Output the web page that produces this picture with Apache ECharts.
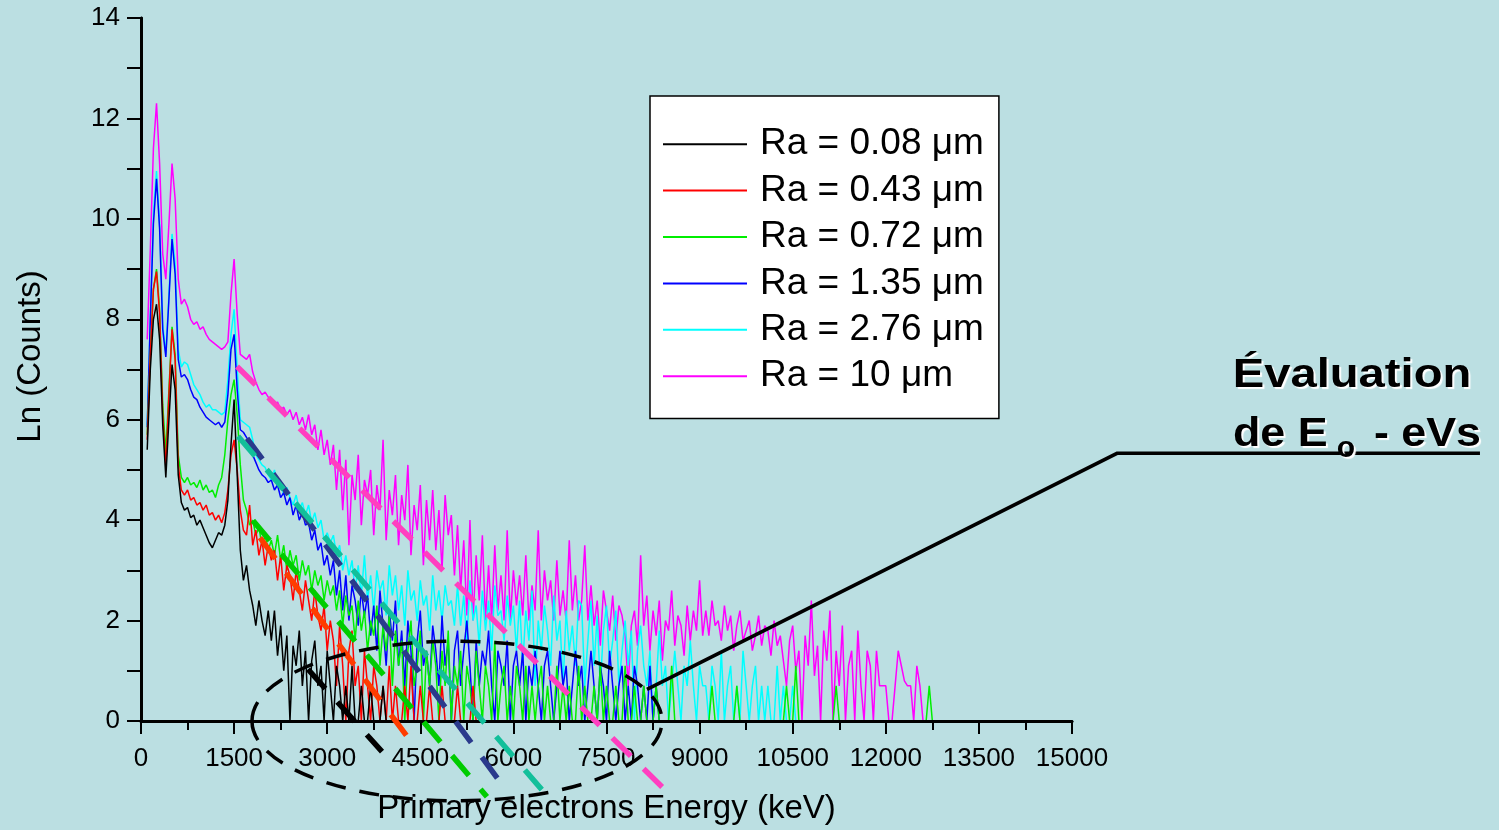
<!DOCTYPE html>
<html>
<head>
<meta charset="utf-8">
<title>Ln (Counts) - Primary electrons Energy</title>
<script src="https://cdn.jsdelivr.net/npm/echarts@6/dist/echarts.min.js"></script>
<style>
  html, body { margin: 0; padding: 0; background: #bbdfe2; }
  #chart { width: 1499px; height: 830px; }
</style>
</head>
<body>
<div id="chart"></div>
<script>
// spectra channels (keV): first channel and channel width
const channelStart = 100
const channelWidth = 50

// ln(counts) per channel, one row = 1000 keV
const ra008 = [
  5.4, 7.0, 8.0, 8.3, 7.6, 5.9, 4.85, 6.0, 7.1, 6.6, 4.9, 4.35, 4.2, 4.25, 4.05, 4.1, 3.9, 4.0, 3.85, 3.7,
  3.55, 3.45, 3.6, 3.75, 3.7, 3.9, 4.4, 5.5, 6.4, 4.9, 3.4, 2.8, 3.1, 2.6, 2.3, 1.9, 2.4, 2.0, 1.7, 2.2,
  1.6, 2.2, 1.3, 1.9, 1.0, 1.7, 0, 1.5, 1.1, 1.8, 0.7, 1.4, 0, 1.2, 1.6, 0.7, 1.1, 0, 1.4, 0.7,
  0, 1.1, 0.7, 0, 0.7, 0, 1.1, 0, 0, 0.7, 0, 0, 0.7, 0, 0, 0, 0.7, 0, 0, 0
]
const ra043 = [
  5.6, 7.3, 8.6, 8.95, 8.1, 6.1, 5.05, 6.5, 7.8, 7.2, 5.1, 4.6, 4.5, 4.6, 4.4, 4.45, 4.3, 4.35, 4.2, 4.3,
  4.1, 4.15, 4.0, 4.1, 3.95, 4.15, 4.6, 5.3, 5.6, 5.0, 4.2, 3.8, 3.7, 4.3, 3.5, 3.8, 3.3, 3.6, 3.1, 3.5,
  3.2, 3.4, 2.8, 3.3, 2.6, 3.1, 2.9, 2.4, 3.0, 2.6, 2.2, 2.8, 2.4, 2.0, 2.6, 2.1, 1.8, 2.3, 1.4, 2.0,
  1.6, 0.7, 1.9, 1.1, 0, 1.4, 1.8, 0.7, 1.1, 0, 1.4, 0.7, 0, 1.1, 0.7, 0, 0.7, 0, 1.1, 0,
  0.7, 0, 0, 0.7, 0, 1.1, 0, 0, 0.7, 0, 0, 0.7, 0, 0, 0, 0.7, 0, 0, 0, 0,
  0.7, 0, 0, 0, 0, 0.7, 0, 0, 0
]
const ra072 = [
  5.7, 7.3, 8.6, 9.0, 8.2, 6.3, 5.35, 6.6, 7.85, 7.3, 5.3, 4.85, 4.75, 4.85, 4.7, 4.75, 4.65, 4.8, 4.6, 4.7,
  4.55, 4.6, 4.45, 4.7, 4.85, 5.3, 6.0, 6.5, 6.8, 6.1, 5.1, 4.4, 4.2, 3.9, 4.0, 3.7, 3.85, 3.5, 3.7, 3.4,
  3.6, 3.3, 3.7, 3.2, 3.5, 3.0, 3.4, 3.1, 3.3, 2.8, 3.2, 2.9, 3.1, 2.6, 3.0, 2.7, 2.9, 2.4, 2.8, 2.5,
  2.7, 2.2, 2.6, 1.9, 2.5, 2.1, 2.3, 1.6, 2.4, 1.8, 2.2, 1.4, 2.0, 1.7, 2.3, 1.1, 1.9, 1.4, 2.1, 0.7,
  1.8, 1.1, 1.6, 0, 1.4, 2.0, 0.7, 1.1, 1.8, 0, 1.4, 0.7, 1.6, 1.1, 0, 1.4, 0.7, 1.8, 0, 1.1,
  0.7, 1.4, 0, 1.1, 0.7, 0, 1.4, 0.7, 0, 1.1, 0.7, 0, 1.6, 0, 0.7, 1.1, 0, 0.7, 0, 1.1,
  0.7, 0, 1.1, 0, 0.7, 0, 0.7, 1.1, 0, 0.7, 0, 0, 1.1, 0, 0.7, 0, 0.7, 0, 0, 1.1,
  0, 0.7, 0, 0, 0.7, 0, 1.1, 0, 0.7, 0, 0, 0.7, 0, 0, 1.1, 0, 0, 0.7, 0, 0,
  0.7, 0, 0, 0, 0.7, 0, 0, 0, 0, 1.1, 0, 0, 0, 0, 0, 0, 0, 0, 0, 0,
  0, 0, 0.7, 0, 0, 0, 0, 0, 0, 0, 0.7, 0, 0, 0, 0, 0, 0, 0, 0, 0,
  0, 0, 0, 0, 0, 0, 0.7, 0, 0, 1.1, 0, 0, 0, 0, 0, 0, 0, 0, 0, 0,
  0, 0, 0.7, 0, 0, 0, 0, 0, 0, 0, 0, 0, 0, 0, 0, 0, 0, 0, 0, 0,
  0, 0, 0, 0, 0, 0, 0, 0, 0, 0, 0, 0, 0.7, 0
]
const ra135 = [
  5.85, 8.0, 9.9, 10.8, 9.8, 7.8, 7.25, 8.4, 9.6, 8.9, 7.2, 6.85, 6.9, 6.8, 6.6, 6.45, 6.4, 6.25, 6.15, 6.05,
  6.0, 5.95, 5.9, 5.95, 5.85, 5.95, 6.5, 7.4, 7.7, 6.6, 5.8, 5.75, 5.65, 5.55, 5.3, 5.15, 5.0, 4.9, 4.85, 4.75,
  4.8, 4.6, 4.7, 4.45, 4.55, 4.3, 4.45, 4.1, 4.3, 4.0, 4.15, 3.9, 3.95, 3.6, 3.8, 3.4, 3.55, 3.1, 3.3, 2.9,
  3.2, 2.5, 3.0, 2.2, 2.9, 2.0, 2.7, 2.4, 1.9, 2.6, 2.1, 2.5, 1.7, 2.3, 1.4, 2.6, 1.9, 1.1, 2.2, 1.6,
  2.4, 1.1, 1.8, 0.7, 2.0, 1.4, 0, 1.6, 2.2, 1.1, 1.4, 0.7, 1.9, 1.4, 0.7, 2.1, 1.1, 1.6, 0, 1.4,
  1.8, 0.7, 1.4, 2.0, 1.1, 0, 1.6, 0.7, 1.4, 1.1, 1.8, 0.7, 0, 1.4, 1.1, 0.7, 1.6, 0, 1.1, 1.4,
  0.7, 1.4, 0, 1.1, 0.7, 1.4, 0.7, 0, 1.1, 1.4, 0.7, 0, 0.7, 1.4, 0.7, 1.1, 0, 0.7, 1.4, 0.7,
  1.1, 0, 0.7, 1.4, 0.7, 0, 1.1, 0.7, 0, 1.4, 0.7, 0, 0.7, 1.1, 0, 0.7, 0, 1.1, 0.7, 0,
  0.7, 0, 1.1, 0, 0.7, 0, 0
]
const ra276 = [
  5.9, 8.0, 10.1, 10.95, 9.9, 7.9, 7.3, 8.5, 9.7, 9.1, 7.4, 7.05, 7.15, 7.1, 6.9, 6.7, 6.6, 6.5, 6.35, 6.25,
  6.3, 6.2, 6.2, 6.15, 6.1, 6.15, 6.8, 7.7, 8.2, 7.0, 6.0, 5.95, 5.9, 5.85, 5.6, 5.3, 5.2, 5.1, 5.05, 4.9,
  4.8, 5.0, 4.7, 4.75, 4.5, 4.65, 4.45, 4.3, 4.5, 4.2, 4.35, 4.1, 4.3, 3.95, 4.15, 3.85, 4.0, 3.6, 3.75, 3.55,
  3.7, 3.3, 3.5, 3.0, 3.3, 2.9, 3.2, 2.6, 3.1, 2.5, 3.3, 2.4, 2.9, 2.2, 3.0, 2.6, 2.8, 2.1, 3.1, 2.5,
  2.9, 2.2, 2.7, 1.9, 3.0, 2.4, 2.6, 2.0, 2.8, 2.3, 2.5, 1.8, 2.9, 2.2, 2.6, 2.0, 2.7, 2.3, 2.4, 1.9,
  2.7, 1.9, 2.5, 1.6, 2.8, 2.0, 2.3, 1.5, 2.6, 1.8, 2.4, 1.4, 2.7, 2.1, 2.2, 1.6, 2.5, 1.9, 2.3, 1.4,
  2.4, 1.1, 2.2, 1.6, 2.6, 0.7, 2.0, 1.4, 2.3, 1.8, 1.1, 2.5, 1.6, 2.0, 0.7, 2.2, 1.4, 1.9, 1.1, 2.4,
  2.3, 0.7, 1.6, 2.4, 1.1, 2.1, 0.7, 1.8, 2.3, 1.1, 1.6, 2.2, 0.7, 1.4, 2.0, 1.1, 1.8, 0, 1.4, 1.9,
  1.1, 0.7, 1.4, 0, 0.7, 1.8, 0.7, 1.1, 0, 0.7, 1.4, 0.7, 0, 1.1, 0.7, 1.6, 0.7, 0, 1.1, 0.7,
  0.7, 0, 1.1, 0.7, 0, 1.4, 0, 0.7, 1.1, 0, 0.7, 0, 1.4, 0.7, 0, 0.7, 1.1, 0, 0.7, 0,
  0.7, 0, 0, 1.1, 0, 0.7, 0, 0, 0.7, 0, 0, 0
]
const ra10 = [
  7.6, 9.4, 11.4, 12.3, 11.1, 9.3, 8.8, 9.9, 11.1, 10.4, 8.8, 8.3, 8.4, 8.25, 8.0, 7.9, 7.95, 7.8, 7.85, 7.7,
  7.6, 7.55, 7.5, 7.45, 7.4, 7.45, 7.55, 8.5, 9.2, 8.1, 7.3, 7.25, 7.2, 7.3, 6.95, 6.75, 6.6, 6.5, 6.55, 6.45,
  6.4, 6.3, 6.35, 6.2, 6.25, 6.1, 6.2, 6.0, 6.15, 5.9, 6.05, 5.8, 6.1, 5.7, 5.9, 5.4, 5.8, 5.3, 5.6, 5.1,
  5.5, 4.6, 5.4, 4.2, 5.2, 3.5, 4.9, 4.4, 5.3, 3.9, 4.8, 4.5, 5.0, 3.7, 4.7, 4.2, 5.6, 3.6, 4.6, 4.1,
  4.9, 3.5, 4.5, 4.0, 5.1, 3.3, 4.3, 3.8, 4.7, 3.1, 4.4, 3.6, 4.6, 3.4, 4.2, 3.0, 4.5, 3.7, 4.1, 2.9,
  3.9, 2.6, 3.6, 2.1, 4.0, 2.0, 3.3, 2.4, 3.7, 2.0, 3.1, 2.0, 3.5, 2.2, 2.9, 2.0, 3.8, 2.0, 3.0, 2.3,
  2.9, 2.1, 3.3, 2.0, 2.7, 2.2, 3.8, 2.0, 3.0, 2.4, 2.8, 2.0, 3.2, 2.1, 2.6, 2.0, 3.6, 2.2, 2.9, 2.0,
  2.4, 3.5, 2.0, 2.7, 1.9, 2.4, 1.5, 2.6, 2.2, 1.8, 2.5, 1.6, 2.3, 2.1, 1.7, 0.7, 1.9, 2.2, 1.5, 3.3,
  1.9, 2.5, 1.4, 2.2, 1.7, 2.4, 1.2, 2.0, 1.8, 2.6, 1.5, 2.1, 1.9, 1.3, 2.3, 1.6, 2.2, 1.8, 2.8, 1.7,
  2.2, 1.7, 2.4, 1.9, 2.0, 1.6, 2.3, 1.8, 2.1, 1.4, 1.9, 2.2, 1.6, 1.8, 2.0, 1.4, 1.7, 2.1, 1.5, 1.9,
  1.8, 1.3, 2.0, 1.5, 1.7, 1.2, 0.7, 1.6, 1.9, 1.0, 1.4, 0, 1.7, 1.1, 2.4, 0.9, 1.5, 0, 1.8, 1.2,
  2.2, 0, 1.4, 0.7, 1.9, 0, 1.1, 1.4, 0, 1.8, 0.7, 0, 1.4, 1.1, 0, 1.4, 0.7, 0.7, 0.7, 0,
  0, 0.7, 1.4, 1.1, 0.8, 0.7, 0.7, 0, 1.1, 0.7, 0
]

const seriesNames = ['Ra = 0.08 μm', 'Ra = 0.43 μm', 'Ra = 0.72 μm', 'Ra = 1.35 μm', 'Ra = 2.76 μm', 'Ra = 10 μm']
const seriesValues = [ra008, ra043, ra072, ra135, ra276, ra10]
const seriesColors = ['#000000', '#ff0000', '#00ee00', '#0000ff', '#00ffff', '#ff00ff']

// hand-drawn straight fits: [E start, ln start, E end, ln end]
const fitLines = [
  [2690, 1.03, 3883, -0.61],
  [1917, 3.65, 4414, -0.52],
  [1804, 3.99, 5574, -1.51],
  [1708, 5.63, 5784, -1.21],
  [1563, 5.67, 6557, -1.51],
  [1547, 7.06, 8555, -1.51]
]
const fitColors = ['#000000', '#ff3c00', '#00cc00', '#2a3a8c', '#12bf9a', '#ff3fc0']

// dashed ellipse (center / radii in keV, ln) and leader line to the note
const ellipseCenter = [5091, 0]
const ellipseRadius = [3303, 1.59]
const leaderPath = [[8152, 0.63], [15725, 5.33], [21573, 5.33]]

const font = 'Liberation Sans, Arial, sans-serif'

const chart = echarts.init(document.getElementById('chart'))

const toPoints = vals => vals.map((v, i) => [channelStart + i * channelWidth, v])

const spectra = seriesNames.map((name, k) => ({
  name: name,
  type: 'line',
  data: toPoints(seriesValues[k]),
  showSymbol: false,
  symbol: 'none',
  color: seriesColors[k],
  lineStyle: { width: 1.5, color: seriesColors[k] },
  z: 2,
  silent: true
})).reverse() // magenta drawn first, black on top

const fits = fitLines.map((f, k) => ({
  type: 'line',
  data: [[f[0], f[1]], [f[2], f[3]]],
  showSymbol: false,
  symbol: 'none',
  clip: false,
  lineStyle: { width: 5.5, color: fitColors[k], type: [26, 18] },
  z: 6,
  silent: true
}))

chart.setOption({
  backgroundColor: '#bbdfe2',
  animation: false,
  grid: { left: 141, top: 18, width: 931, height: 706 },
  legend: {
    data: seriesNames,
    orient: 'vertical',
    left: 650,
    top: 96,
    padding: [25, 15, 19, 13],
    itemGap: 0,
    itemWidth: 84,
    itemHeight: 2,
    icon: 'rect',
    selectedMode: false,
    backgroundColor: '#ffffff',
    borderColor: '#000000',
    borderWidth: 1.5,
    textStyle: { fontFamily: font, fontSize: 37, color: '#000', lineHeight: 46.4, padding: [0, 0, 0, 8] }
  },
  xAxis: [{
    type: 'value',
    position: 'bottom',
    min: 0,
    max: 15000,
    interval: 1500,
    z: 3,
    name: 'Primary electrons Energy (keV)',
    nameLocation: 'middle',
    nameGap: 71,
    nameTextStyle: { fontFamily: font, fontSize: 33, color: '#000' },
    axisLine: { lineStyle: { color: '#000', width: 3 } },
    axisTick: { length: 13, lineStyle: { color: '#000', width: 2 } },
    minorTick: { show: true, splitNumber: 2, length: 8, lineStyle: { color: '#000', width: 2 } },
    axisLabel: { fontFamily: font, fontSize: 26, color: '#000', margin: 25, formatter: v => String(v) },
    splitLine: { show: false }
  }, {
    type: 'value',
    position: 'top',
    min: 0,
    max: 15000,
    interval: 750,
    axisLine: { lineStyle: { color: '#000', width: 2.5 } },
    axisTick: { inside: true, length: 9, lineStyle: { color: '#000', width: 2 } },
    axisLabel: { show: false },
    splitLine: { show: false }
  }],
  yAxis: [{
    type: 'value',
    position: 'left',
    min: 0,
    max: 14,
    interval: 2,
    z: 3,
    name: 'Ln (Counts)',
    nameLocation: 'middle',
    nameGap: 94,
    nameTextStyle: { fontFamily: font, fontSize: 33, color: '#000', padding: [0, 0, 0, 26] },
    axisLine: { show: true, lineStyle: { color: '#000', width: 3 } },
    axisTick: { show: true, length: 14, lineStyle: { color: '#000', width: 2 } },
    minorTick: { show: true, splitNumber: 2, length: 8, lineStyle: { color: '#000', width: 2 } },
    axisLabel: { fontFamily: font, fontSize: 26, color: '#000', margin: 21 },
    splitLine: { show: false }
  }, {
    type: 'value',
    position: 'right',
    min: 0,
    max: 14,
    interval: 1,
    axisLine: { show: true, lineStyle: { color: '#000', width: 2.5 } },
    axisTick: { show: true, inside: true, length: 14, lineStyle: { color: '#000', width: 2 } },
    axisLabel: { show: false },
    splitLine: { show: false }
  }],
  series: spectra.concat(fits)
})

// annotations placed from data coordinates
const px = p => chart.convertToPixel({ gridIndex: 0 }, p)
const c = px(ellipseCenter)
const edge = px([ellipseCenter[0] + ellipseRadius[0], ellipseCenter[1] + ellipseRadius[1]])
const leader = leaderPath.map(px)

const noteStyle = {
  fill: '#000',
  fontFamily: font,
  fontWeight: 'bold',
  fontSize: 40,
  textShadowColor: '#ffffff',
  textShadowOffsetX: 2,
  textShadowOffsetY: 2,
  textShadowBlur: 1
}

chart.setOption({
  graphic: [
    {
      type: 'ellipse',
      z: 20,
      silent: true,
      shape: { cx: c[0], cy: c[1], rx: edge[0] - c[0], ry: c[1] - edge[1] },
      style: { fill: 'none', stroke: '#000', lineWidth: 3.5, lineDash: [20, 14] }
    },
    {
      type: 'polyline',
      z: 20,
      silent: true,
      shape: { points: leader },
      style: { fill: 'none', stroke: '#000', lineWidth: 3.5 }
    },
    {
      type: 'text', z: 21, silent: true, x: 1352, y: 376, scaleX: 1.18,
      style: Object.assign({ text: 'Évaluation', align: 'center', verticalAlign: 'middle' }, noteStyle)
    },
    {
      type: 'text', z: 21, silent: true, x: 1233, y: 435, scaleX: 1.12,
      style: Object.assign({ text: 'de E', align: 'left', verticalAlign: 'middle' }, noteStyle)
    },
    {
      type: 'text', z: 21, silent: true, x: 1346, y: 449,
      style: Object.assign({ text: 'o', align: 'center', verticalAlign: 'middle' }, noteStyle, { fontSize: 30 })
    },
    {
      type: 'text', z: 21, silent: true, x: 1481, y: 435, scaleX: 1.12,
      style: Object.assign({ text: '- eVs', align: 'right', verticalAlign: 'middle' }, noteStyle)
    }
  ]
})
</script>
</body>
</html>
